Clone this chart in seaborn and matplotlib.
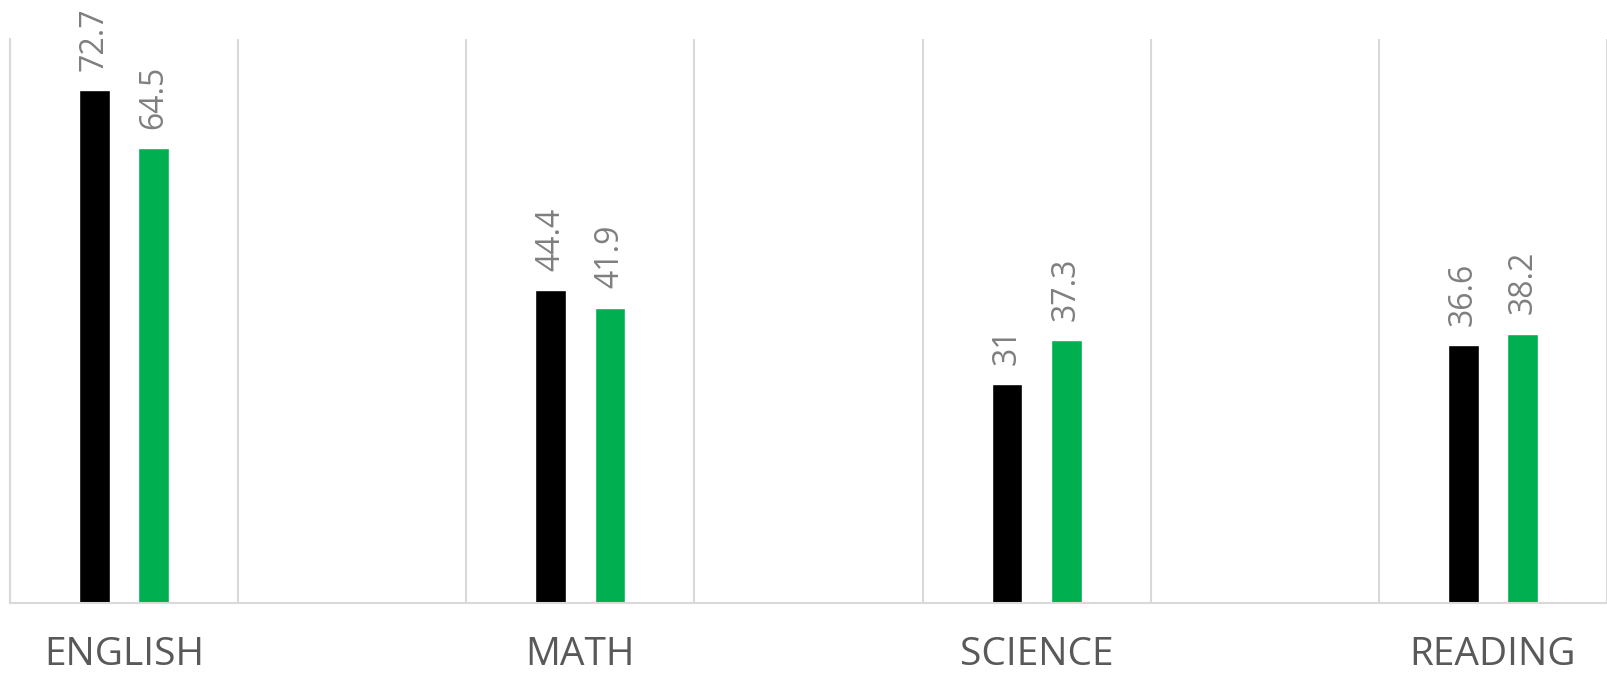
import pandas as pd
import seaborn as sns
import matplotlib.pyplot as plt

# Chart data
subjects = ['ENGLISH', 'MATH', 'SCIENCE', 'READING']
series_names = ['Group 1', 'Group 2']
group1 = [72.7, 44.4, 31, 36.6]
group2 = [64.5, 41.9, 37.3, 38.2]
colors = ['#000000', '#00B050']

# empty slots between subjects, like the original layout
order = ['ENGLISH', ' ', 'MATH', '  ', 'SCIENCE', '   ', 'READING']

df = pd.DataFrame({
    'subject': subjects * 2,
    'series': [series_names[0]] * 4 + [series_names[1]] * 4,
    'score': group1 + group2,
})

sns.set_theme(style='white')
plt.rcParams['font.family'] = ['Open Sans', 'DejaVu Sans']

fig = plt.figure(figsize=(16.08, 6.77), dpi=100)
ax = fig.add_axes([10 / 1608, 74 / 677, 1597 / 1608, 564 / 677])

sns.barplot(
    data=df, x='subject', y='score', hue='series',
    order=order, hue_order=series_names, palette=colors,
    width=0.52, gap=0.48, saturation=1, legend=False, ax=ax,
)

for container in ax.containers:
    ax.bar_label(container, fmt='{:g}', rotation=90, padding=14,
                 color='#7f7f7f', fontsize=23)

ax.set_xlim(-0.5, len(order) - 0.5)
ax.set_ylim(0, 80)
ax.set_yticks([])
ax.set_xlabel('')
ax.set_ylabel('')

# vertical gridlines between slots
ax.set_xticks([i - 0.5 for i in range(len(order) + 1)], minor=True)
ax.grid(which='minor', axis='x', color='#d9d9d9', linewidth=1.5)
ax.set_xticks([0, 2, 4, 6])
ax.set_xticklabels(subjects, color='#595959', fontsize=28)
ax.tick_params(axis='x', which='both', length=0, pad=24)

for side in ['top', 'right']:
    ax.spines[side].set_visible(False)
for side in ['left', 'bottom']:
    ax.spines[side].set_color('#d9d9d9')
    ax.spines[side].set_linewidth(1.5)

fig.savefig('out.png', dpi=100)
